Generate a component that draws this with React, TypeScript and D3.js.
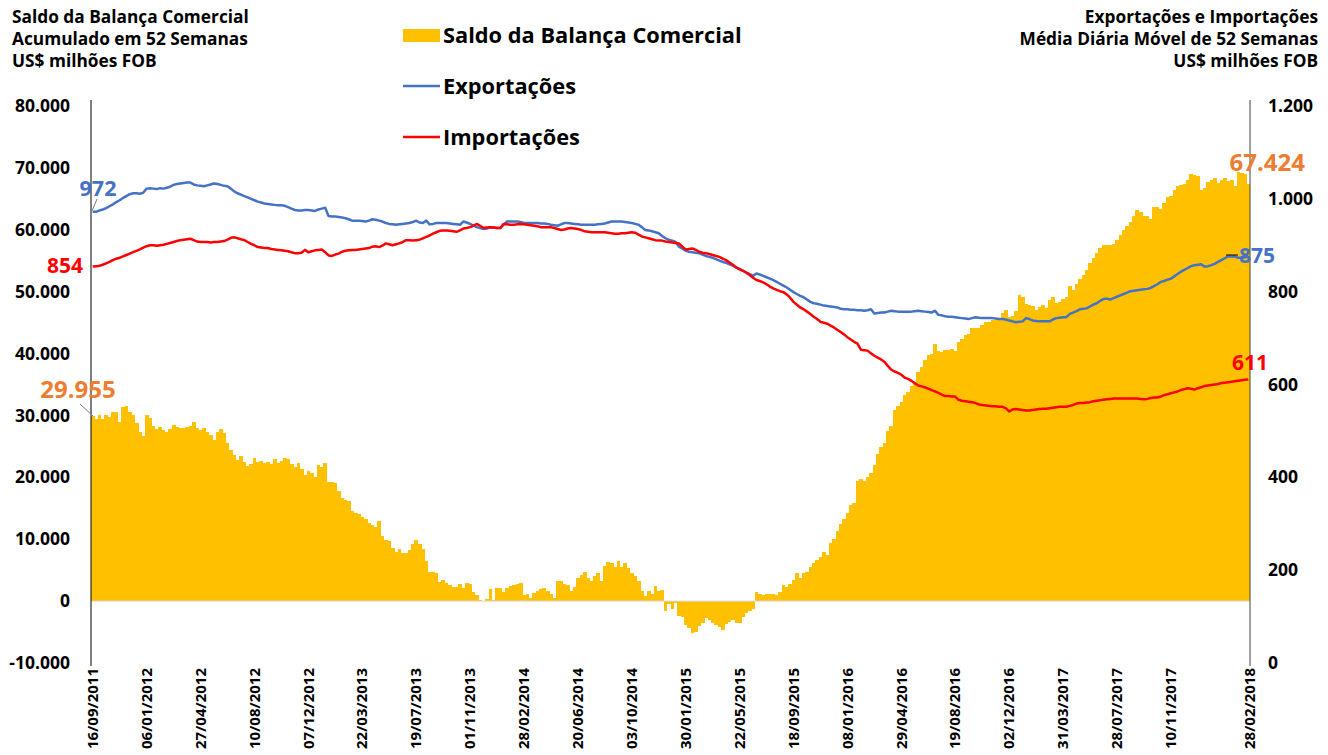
import React from "react";
import * as d3 from "d3";

// Weekly categories: tick labels shown every 16 weeks, plus the final week
const tickLabels = [
  "16/09/2011", "06/01/2012", "27/04/2012", "10/08/2012", "07/12/2012", "22/03/2013",
  "19/07/2013", "01/11/2013", "28/02/2014", "20/06/2014", "03/10/2014", "30/01/2015",
  "22/05/2015", "18/09/2015", "08/01/2016", "29/04/2016", "19/08/2016", "02/12/2016",
  "31/03/2017", "28/07/2017", "10/11/2017", "28/02/2018",
];
const tickStep = 16;

const leftTicks = [-10000, 0, 10000, 20000, 30000, 40000, 50000, 60000, 70000, 80000];
const rightTicks = [0, 200, 400, 600, 800, 1000, 1200];

// Saldo da Balança Comercial, acumulado em 52 semanas (US$ bilhões = milhares de US$ milhões)
const saldo = [
  29.955, 29.5, 30.1, 29.5, 30.0, 29.7, 30.5, 30.5, 29.0, 31.4, 31.5, 30.6, 30.1, 28.8, 27.4, 26.7, 30.1, 29.6, 28.3, 27.8,
  28.2, 27.7, 27.4, 27.8, 28.5, 28.2, 27.9, 28.0, 28.2, 28.3, 28.9, 27.9, 27.7, 27.9, 27.4, 26.8, 26.0, 27.4, 27.8, 27.1,
  25.6, 24.4, 23.6, 22.8, 23.4, 22.5, 21.8, 22.1, 23.2, 22.5, 22.6, 22.3, 22.5, 22.1, 22.9, 22.3, 22.6, 23.2, 23.0, 22.1,
  21.6, 22.3, 21.4, 20.4, 21.1, 20.7, 20.1, 22.0, 21.7, 22.3, 19.3, 19.3, 19.1, 17.8, 16.6, 16.4, 16.2, 14.6, 14.2, 14.1,
  13.6, 13.3, 12.6, 12.3,
  12.0, 13.0, 10.5, 9.9, 9.7, 8.6, 7.9, 8.5, 7.7, 7.7, 8.3, 9.2, 9.9, 9.3, 8.5, 6.5, 4.7, 4.7, 4.5, 3.1,
  3.4, 2.9, 2.6, 2.2, 2.2, 2.8, 2.1, 2.9, 2.8, 1.5, 1.0, 0.1, 0.0, 0.3, 1.9, 0.1, 2.1, 2.1, 1.4, 2.1,
  2.4, 2.6, 2.8, 2.9,
  1.0, 1.2, 0.5, 1.3, 1.7, 1.9, 2.1, 1.7, 1.2, 0.5, 3.2, 3.2, 2.8, 2.6, 1.7, 2.2, 3.7, 4.2, 4.7, 3.8,
  3.2, 4.1, 4.5, 3.3, 5.7, 6.4, 6.2, 5.5, 6.5, 5.5, 6.2, 5.3, 4.6, 4.1, 3.3, 1.7, 0.9, 1.7, 1.2, 2.5,
  1.7, 1.8, -1.6, -0.4,
  -1.2, -0.3, -2.4, -2.6, -3.9, -4.3, -5.1, -5.0, -4.1, -3.5, -2.8, -3.1, -3.5, -3.9, -4.2, -4.6, -3.7, -3.3, -3.1, -3.6,
  -3.5, -2.5, -2.0, -1.6, -1.3, 1.5, 1.2, 1.0, 1.1, 1.2, 1.1, 1.0, 1.5, 2.6, 2.3, 2.7, 3.4, 4.5, 3.7, 4.5,
  4.7, 5.5,
  6.2, 6.6, 7.2, 7.9, 7.4, 9.4, 10.1, 11.3, 12.4, 13.3, 14.2, 15.5, 15.9,
  19.4, 19.8, 19.4, 20.0, 20.7, 22.0, 23.7, 24.9, 25.5, 27.5, 28.3, 30.8, 31.5, 32.2, 33.3, 33.8, 34.7, 35.3, 37.1, 37.8,
  39.0, 39.8, 40.0, 41.6, 40.4, 40.3, 40.5, 40.6, 40.8, 40.4,
  41.9, 42.4, 43.0, 43.1, 44.1, 44.1, 44.2, 44.6, 45.1, 45.1, 45.4, 45.4, 45.5, 46.6, 47.1, 45.9, 46.1, 46.9, 49.4, 49.2,
  48.0, 47.8, 47.7, 47.1, 47.5, 47.8, 47.3, 48.6, 49.1, 48.2, 48.4, 48.8, 49.1, 50.9, 50.3, 51.2, 52.0, 52.7, 53.5, 54.7,
  55.5, 56.2, 57.0,
  57.5, 57.5, 57.5, 57.7, 58.3, 59.1, 59.9, 60.6, 61.3, 62.3, 63.2, 62.9, 62.3, 62.2, 61.8, 63.7, 63.6, 63.4, 64.3, 65.3,
  65.4, 66.5, 67.0, 67.2, 67.4, 68.0, 69.0, 68.8, 68.7, 66.5, 66.8, 67.7, 68.0, 68.3, 67.6, 68.1, 68.4, 67.9, 68.0, 67.0,
  69.3, 69.2, 69.0, 67.424,
];

// Exportações, média diária móvel de 52 semanas (US$ milhões)
const exportacoes = [
  972, 972, 975, 977, 980, 984, 988, 993, 997, 1002,
  1006, 1010, 1012, 1012, 1011, 1013, 1022, 1023, 1022, 1021,
  1023, 1022, 1024, 1026, 1030, 1032, 1033, 1034, 1035, 1035,
  1031, 1029, 1028, 1027, 1029, 1031, 1033, 1032, 1030, 1028,
  1027, 1022, 1016, 1012, 1009, 1006, 1003, 1000, 997, 994,
  992, 990, 989, 988, 987, 986, 986, 985, 982, 979,
  976, 975, 975, 976, 976, 975, 974, 977, 979, 981,
  963, 962, 962, 961, 960, 958, 956, 953, 953, 953,
  952, 951, 953, 956, 955, 953, 951, 948, 946, 945,
  944, 945, 946, 947, 948, 950, 953, 949, 948, 953,
  945, 946, 948, 948, 948, 948, 947, 946, 945, 944,
  951, 949, 946, 943, 939, 937, 935, 936, 939, 938,
  937, 937, 945, 951, 951, 951, 951, 950, 948, 948,
  948, 948, 948, 947, 947, 946, 944, 943, 942, 945,
  948, 948, 947, 946, 945, 944, 944, 944, 944, 944,
  945, 946, 947, 949, 951, 951, 951, 951, 950, 949,
  948, 946, 944, 939, 933, 932, 930, 928, 926, 920,
  915, 912, 910, 907, 897, 893, 888, 886, 885, 884,
  883, 880, 877, 875, 873, 870, 867, 864, 862, 859,
  856, 852, 849, 845, 841, 838, 834, 839, 837, 834,
  831, 828, 825, 821, 817, 813, 809, 804, 799, 795,
  791, 788, 783, 778, 775, 774, 772, 770, 769, 768,
  767, 766, 763, 762, 762, 761, 761, 760, 760, 759,
  760, 762, 753, 754, 755, 755, 757, 759, 758, 757,
  757, 757, 757, 757, 758, 759, 758, 757, 756, 755,
  759, 750, 749, 747, 746, 746, 745, 744, 743, 742,
  741, 743, 745, 744, 743, 743, 743, 743, 742, 741,
  741, 740, 738, 736, 734, 735, 736, 743, 741, 738,
  737, 736, 736, 736, 736, 740, 743, 744, 745, 745,
  752, 755, 758, 762, 763, 764, 768, 772, 775, 780,
  784, 785, 783, 786, 789, 792, 795, 798, 801, 802,
  803, 804, 805, 806, 808, 812, 816, 821, 823, 826,
  828, 833, 838, 843, 847, 851, 855, 857, 858, 859,
  854, 855, 857, 860, 864, 868, 872, 876, 876, 876,
  873, 873, 874, 875,
];

// Importações, média diária móvel de 52 semanas (US$ milhões)
const importacoes = [
  854, 855, 856, 858, 861, 864, 868, 871, 873, 876,
  879, 882, 885, 888, 891, 895, 898, 900, 900, 899,
  900, 901, 903, 905, 907, 909, 911, 912, 913, 914,
  911, 908, 907, 907, 907, 906, 907, 907, 908, 909,
  912, 916, 917, 915, 913, 911, 907, 903, 900, 896,
  895, 894, 894, 892, 891, 890, 889, 888, 887, 885,
  883, 883, 884, 890, 885, 887, 889, 890, 891, 885,
  878, 877, 880, 882, 886, 888, 889, 890, 890, 891,
  892, 893, 894, 897, 898, 896, 899, 904, 902, 900,
  902, 904, 907, 911, 911, 910, 911, 912, 915, 918,
  921, 925, 928, 931, 932, 932, 931, 930, 929, 932,
  936, 937, 939, 942, 946, 942, 937, 938, 939, 938,
  937, 937, 946, 945, 944, 944, 945, 946, 945, 944,
  943, 942, 941, 939, 939, 939, 939, 937, 935, 933,
  934, 936, 937, 936, 935, 933, 930, 929, 928, 928,
  928, 928, 928, 927, 926, 925, 925, 926, 926, 927,
  928, 927, 923, 919, 917, 915, 913, 911, 910, 910,
  908, 907, 906, 905, 904, 897, 891, 892, 893, 890,
  886, 884, 883, 881, 879, 877, 875, 871, 868, 863,
  858, 852, 848, 845, 841, 836, 830, 825, 823, 820,
  816, 811, 807, 804, 801, 799, 794, 787, 778, 772,
  766, 762, 757, 752, 746, 741, 735, 733, 731, 727,
  723, 718, 713, 708, 702, 697, 692, 688, 675, 674,
  673, 667, 662, 658, 654, 649, 640, 632, 628, 625,
  621, 615, 612, 608, 603, 598, 596, 594, 591, 588,
  585, 582, 578, 575, 575, 574, 574, 567, 565, 564,
  563, 562, 560, 557, 556, 555, 554, 553, 553, 552,
  552, 549, 542, 546, 547, 546, 545, 544, 544, 545,
  546, 547, 548, 548, 549, 550, 551, 552, 552, 552,
  554, 556, 559, 560, 560, 561, 562, 564, 565, 566,
  567, 568, 569, 570, 570, 570, 570, 570, 570, 570,
  570, 569, 568, 569, 571, 572, 572, 574, 577, 579,
  581, 583, 585, 588, 590, 592, 591, 589, 592, 594,
  597, 598, 599, 600, 601, 603, 604, 605, 606, 607,
  608, 609, 610, 611,
];

const FONT = "'Open Sans', 'DejaVu Sans', sans-serif";
const C_BAR = "#FFC000";
const C_EXP = "#4472C4";
const C_IMP = "#FF0000";
const C_LBL = "#ED7D31";

const locale = d3.formatLocale({
  decimal: ",",
  thousands: ".",
  grouping: [3],
  currency: ["US$", ""],
  minus: "-",
});
const fmt = locale.format(",.0f");

export default function App() {
  const W = 1328;
  const H = 755;
  const left = 91;
  const right = 1250;
  const top = 106;
  const bottom = 663;
  const N = saldo.length;
  const idx = d3.range(N);

  const x = d3.scaleBand<number>().domain(idx).range([left, right]).padding(0);
  const yL = d3.scaleLinear().domain([-10000, 80000]).range([bottom, top]);
  const yR = d3.scaleLinear().domain([0, 1200]).range([bottom, top]);
  const cx = (i: number) => (x(i) as number) + x.bandwidth() / 2;

  const lineR = d3
    .line<number>()
    .x((_, i) => cx(i))
    .y((d) => yR(d));

  const tickIdx = tickLabels.map((_, k) => (k < tickLabels.length - 1 ? k * tickStep : N - 1));

  const first = saldo[0] * 1000;
  const last = saldo[N - 1] * 1000;

  return (
    <div style={{ position: "absolute", left: 0, top: 0 }}>
      <svg width={W} height={H} style={{ display: "block", background: "#fff" }} fontFamily={FONT}>
        {/* bars */}
        <g shapeRendering="crispEdges">
          {saldo.map((v, i) => {
            const val = v * 1000;
            const y0 = yL(0);
            const y1 = yL(val);
            return (
              <rect
                key={i}
                x={x(i) as number}
                width={x.bandwidth() + 0.35}
                y={Math.min(y0, y1)}
                height={Math.abs(y1 - y0)}
                fill={C_BAR}
              />
            );
          })}
        </g>

        {/* zero axis */}
        <line x1={left} x2={right} y1={yL(0)} y2={yL(0)} stroke="#D9D9D9" strokeWidth={1} />

        {/* lines */}
        <path d={lineR(exportacoes) || ""} fill="none" stroke={C_EXP} strokeWidth={2.5} strokeLinejoin="round" />
        <path d={lineR(importacoes) || ""} fill="none" stroke={C_IMP} strokeWidth={2.5} strokeLinejoin="round" />

        {/* axes lines */}
        <line x1={left} x2={left} y1={100} y2={666} stroke="#000" strokeWidth={1} />
        <line x1={right} x2={right} y1={100} y2={666} stroke="#404040" strokeWidth={1} />

        {/* left ticks */}
        {leftTicks.map((t) => (
          <text key={t} x={70} y={yL(t)} dy="0.35em" textAnchor="end" fontSize={17.5} fontWeight={700} fill="#000">
            {fmt(t)}
          </text>
        ))}
        {/* right ticks */}
        {rightTicks.map((t) => (
          <text key={t} x={1268} y={yR(t)} dy="0.35em" textAnchor="start" fontSize={17.5} fontWeight={700} fill="#000">
            {fmt(t)}
          </text>
        ))}

        {/* x labels */}
        {tickLabels.map((lab, k) => {
          const xi = k < tickLabels.length - 1 ? cx(tickIdx[k]) : right;
          return (
            <text
              key={lab}
              transform={`translate(${xi},${668}) rotate(-90)`}
              textAnchor="end"
              dy="0.35em"
              fontSize={15}
              fontWeight={700}
              fill="#000"
            >
              {lab}
            </text>
          );
        })}

        {/* titles */}
        <g fontSize={17.3} fontWeight={700} fill="#000">
          <text x={12} y={17} dy="0.35em">Saldo da Balança Comercial</text>
          <text x={12} y={39} dy="0.35em">Acumulado em 52 Semanas</text>
          <text x={12} y={61} dy="0.35em">US$ milhões FOB</text>
          <text x={1318} y={17} dy="0.35em" textAnchor="end">Exportações e Importações</text>
          <text x={1318} y={39} dy="0.35em" textAnchor="end">Média Diária Móvel de 52 Semanas</text>
          <text x={1318} y={61} dy="0.35em" textAnchor="end">US$ milhões FOB</text>
        </g>

        {/* legend */}
        <g fontSize={21.8} fontWeight={700} fill="#000">
          <rect x={403} y={29} width={37} height={13} fill={C_BAR} />
          <text x={443} y={35} dy="0.35em">Saldo da Balança Comercial</text>
          <line x1={403} x2={440} y1={86} y2={86} stroke={C_EXP} strokeWidth={2.5} />
          <text x={443} y={86} dy="0.35em">Exportações</text>
          <line x1={403} x2={440} y1={137} y2={137} stroke={C_IMP} strokeWidth={2.5} />
          <text x={443} y={137} dy="0.35em">Importações</text>
        </g>

        {/* data labels */}
        <g fontWeight={700}>
          <line x1={80} y1={404} x2={93} y2={416} stroke="#7f7f7f" strokeWidth={1} />
          <text x={78} y={390} dy="0.35em" textAnchor="middle" fontSize={24} fill={C_LBL}>{fmt(first)}</text>
          <text x={1305} y={163} dy="0.35em" textAnchor="end" fontSize={24} fill={C_LBL}>{fmt(last)}</text>
          <line x1={97} y1={199} x2={92} y2={211} stroke="#7f7f7f" strokeWidth={1} />
          <text x={98} y={188} dy="0.35em" textAnchor="middle" fontSize={21.5} fill={C_EXP}>{fmt(exportacoes[0])}</text>
          <text x={65} y={266} dy="0.35em" textAnchor="middle" fontSize={21} fill={C_IMP}>{fmt(importacoes[0])}</text>
          <line x1={1226} y1={255} x2={1238} y2={255} stroke="#000" strokeWidth={1} />
          <text x={1257} y={256} dy="0.35em" textAnchor="middle" fontSize={21} fill={C_EXP}>{fmt(exportacoes[N - 1])}</text>
          <text x={1250} y={363} dy="0.35em" textAnchor="middle" fontSize={21} fill={C_IMP}>{fmt(importacoes[N - 1])}</text>
        </g>
      </svg>
    </div>
  );
}
